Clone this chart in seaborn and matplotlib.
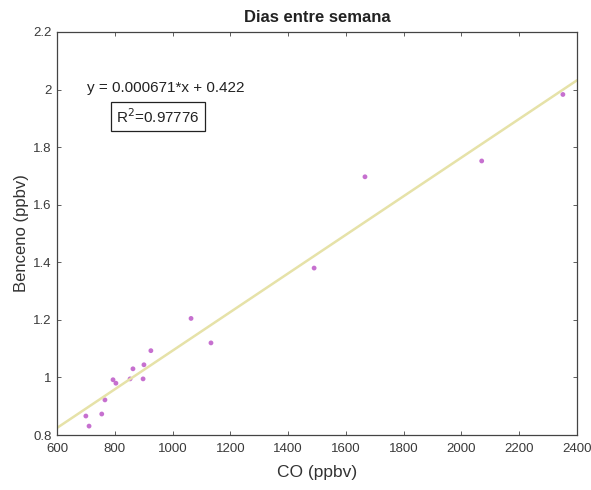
import numpy as np
import pandas as pd
import matplotlib
matplotlib.use("Agg")
import matplotlib.pyplot as plt
import seaborn as sns

# CO vs benzene concentrations on weekdays
co_ppbv = [700, 711, 755, 766, 794, 804, 853, 863, 898, 901, 925,
           1064, 1133, 1490, 1666, 2070, 2351]
benceno_ppbv = [0.866, 0.831, 0.873, 0.922, 0.992, 0.98, 0.995, 1.03, 0.995, 1.044, 1.093,
                1.205, 1.12, 1.38, 1.697, 1.752, 1.983]

# Linear fit reported on the chart
slope = 0.000671
intercept = 0.422
r2_text = "0.97776"

x_ticks = [600, 800, 1000, 1200, 1400, 1600, 1800, 2000, 2200, 2400]
y_ticks = [0.8, 1.0, 1.2, 1.4, 1.6, 1.8, 2.0, 2.2]
y_tick_labels = ["0.8", "1", "1.2", "1.4", "1.6", "1.8", "2", "2.2"]

sns.set_theme(style="white")
plt.rcParams["font.family"] = ["Liberation Sans", "DejaVu Sans"]

fig = plt.figure(figsize=(5.91, 4.90), dpi=100)
ax = fig.add_axes([0.0964, 0.1122, 0.8800, 0.8225])

df = pd.DataFrame({"CO": co_ppbv, "Benceno": benceno_ppbv})
fit_x = np.array([600, 2400])
fit_df = pd.DataFrame({"CO": fit_x, "Benceno": slope * fit_x + intercept})

sns.lineplot(data=fit_df, x="CO", y="Benceno", ax=ax, color="#e6e2a8", linewidth=1.8)
sns.scatterplot(data=df, x="CO", y="Benceno", ax=ax, color="#b84cc4",
                s=12, marker="o", edgecolor="none", alpha=0.8)

ax.set_xlim(600, 2400)
ax.set_ylim(0.8, 2.2)
ax.set_xticks(x_ticks)
ax.set_xticklabels([str(t) for t in x_ticks])
ax.set_yticks(y_ticks)
ax.set_yticklabels(y_tick_labels)

for side in ["top", "right", "bottom", "left"]:
    ax.spines[side].set_visible(True)
    ax.spines[side].set_color("#444444")
    ax.spines[side].set_linewidth(0.9)

ax.tick_params(axis="both", direction="in", length=3, width=0.6,
               colors="#444444", labelsize=9.5, labelcolor="#3a3a3a",
               top=True, right=True, bottom=True, left=True)
ax.tick_params(axis="x", pad=6)
ax.tick_params(axis="y", pad=4)

ax.set_xlabel("CO (ppbv)", fontsize=12.5, color="#333333", labelpad=7)
ax.set_ylabel("Benceno (ppbv)", fontsize=12, color="#333333", labelpad=3)
ax.set_title("Dias entre semana", fontsize=12, fontweight="bold", color="#222222", pad=7)

ax.text(0.058, 0.862, f"y = {slope:.6f}*x + {intercept}", transform=ax.transAxes,
        fontsize=11, color="#222222", ha="left", va="center")
ax.text(0.114, 0.79, f"R$^2$={r2_text}", transform=ax.transAxes,
        fontsize=11, color="#222222", ha="left", va="center",
        bbox=dict(boxstyle="square,pad=0.35", facecolor="white", edgecolor="#222222", linewidth=0.9))

fig.savefig("out.png", dpi=100)
